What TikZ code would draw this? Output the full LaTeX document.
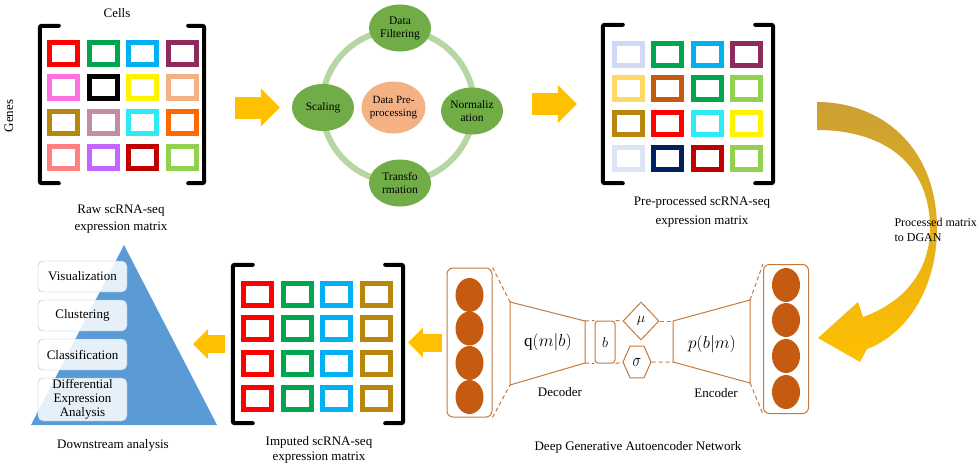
\documentclass[tikz,border=0pt]{standalone}
\usepackage{amsmath}
\usepackage{fontspec}
\setmainfont{Liberation Serif}
\usetikzlibrary{arrows.meta,shapes.geometric,calc}

\definecolor{dgreen}{RGB}{0,165,80}
\definecolor{sky}{RGB}{0,176,240}
\definecolor{plum}{RGB}{142,42,92}
\definecolor{pink}{RGB}{255,112,224}
\definecolor{peach}{RGB}{244,177,131}
\definecolor{gold}{RGB}{184,134,11}
\definecolor{mauve}{RGB}{195,139,166}
\definecolor{cyan}{RGB}{46,234,245}
\definecolor{orange}{RGB}{255,106,0}
\definecolor{lred}{RGB}{255,128,128}
\definecolor{violet}{RGB}{194,102,255}
\definecolor{dred}{RGB}{192,0,0}
\definecolor{lime}{RGB}{146,208,80}
\definecolor{lavender}{RGB}{210,217,245}
\definecolor{lgold}{RGB}{255,217,102}
\definecolor{rust}{RGB}{197,90,17}
\definecolor{pale}{RGB}{220,228,245}
\definecolor{navy}{RGB}{0,32,96}
\definecolor{ringgreen}{RGB}{182,215,164}
\definecolor{stagegreen}{RGB}{112,173,71}
\definecolor{arrowyellow}{RGB}{255,192,0}
\definecolor{dgold}{RGB}{203,160,52}
\definecolor{pyrblue}{RGB}{91,155,213}
\definecolor{boxblue}{RGB}{150,188,228}
\definecolor{aebrown}{RGB}{196,122,62}
\definecolor{unitbrown}{RGB}{197,90,17}

\begin{document}
\begin{tikzpicture}[x=1pt,y=-1pt,
  lbl/.style={align=center,font=\fontsize{13}{17}\selectfont},
  tile/.style={draw=#1,line width=5pt,minimum width=28pt,minimum height=22pt,inner sep=0pt},
  matframe/.style 2 args={minimum width=#1,minimum height=#2,inner sep=0pt},
  bracket/.style={line width=4pt,line cap=round,rounded corners=2pt},
  stage/.style={ellipse,fill=stagegreen,minimum width=62pt,minimum height=47pt,inner sep=-3pt,
    align=center,font=\fontsize{11.5}{13}\selectfont},
  core/.style={ellipse,fill=peach,minimum width=64pt,minimum height=52pt,inner sep=-3pt,
    align=center,font=\fontsize{11}{13}\selectfont},
  blockarr/.style={draw=arrowyellow,line width=22pt,-{Triangle[width=38pt,length=19pt,line width=0pt]}},
  smallarr/.style={draw=arrowyellow,line width=18pt,-{Triangle[width=30pt,length=15pt,line width=0pt]}},
  dsbox/.style={draw=boxblue,fill=white,fill opacity=0.85,text opacity=1,rounded corners=5pt,
    minimum width=89pt,inner sep=1pt,align=center,font=\fontsize{13}{14}\selectfont},
  nnlayer/.style={draw=aebrown,line width=1pt,rounded corners=6pt,minimum width=45pt,minimum height=149pt},
  unit/.style={ellipse,fill=unitbrown,minimum width=28pt,minimum height=34pt,inner sep=0pt},
  aeline/.style={draw=aebrown,line width=1pt},
  aedash/.style={draw=aebrown,line width=1pt,dash pattern=on 4pt off 3pt},
  aemath/.style={font=\fontsize{17}{19}\selectfont}]
\useasboundingbox (0,0) rectangle (980,466);

% raw matrix
\node[matframe={164pt}{157pt}] (raw) at (122,104.5) {};
\foreach \c [count=\k from 0] in {red,dgreen,sky,plum,pink,black,yellow,peach,gold,mauve,cyan,orange,lred,violet,dred,lime}{
  \pgfmathtruncatemacro\row{\k/4}
  \pgfmathtruncatemacro\col{mod(\k,4)}
  \node[tile=\c] (raw-\k) at (63.5+39.5*\col,53+34.8*\row) {};
}
\draw[bracket] ([xshift=19pt]raw.north west) -- (raw.north west) -- (raw.south west) -- ([xshift=19pt]raw.south west);
\draw[bracket] ([xshift=-16pt]raw.north east) -- (raw.north east) -- (raw.south east) -- ([xshift=-16pt]raw.south east);
\node[lbl] (cells) at (117,13) {Cells};
\node[lbl,rotate=90] (genes) at (9,116) {Genes};
\node[lbl] (rawlbl) at (121,219) {Raw scRNA-seq\\expression matrix};

% preprocessing cycle
\node[circle,draw=ringgreen,line width=6pt,minimum size=152pt] (ring) at (398,106) {};
\node[stage] (filt) at (400,28) {Data\\Filtering};
\node[stage] (scal) at (323,107.5) {Scaling};
\node[stage] (norm) at (472,111) {Normaliz\\ation};
\node[stage] (trans) at (400,183) {Transfo\\rmation};
\node[core] (core) at (393.5,107.5) {Data Pre-\\processing};

% pre-processed matrix
\node[matframe={170pt}{158pt}] (pre) at (688,104) {};
\foreach \c [count=\k from 0] in {lavender,dgreen,sky,plum,lgold,rust,dgreen,lime,gold,red,cyan,yellow,pale,navy,dred,lime}{
  \pgfmathtruncatemacro\row{\k/4}
  \pgfmathtruncatemacro\col{mod(\k,4)}
  \node[tile=\c] (pre-\k) at (628+39.5*\col,54+34.8*\row) {};
}
\draw[bracket] ([xshift=20pt]pre.north west) -- (pre.north west) -- (pre.south west) -- ([xshift=20pt]pre.south west);
\draw[bracket] ([xshift=-18pt]pre.north east) -- (pre.north east) -- (pre.south east) -- ([xshift=-18pt]pre.south east);
\node[lbl,font=\fontsize{13}{19}\selectfont] (prelbl) at (702,212) {Pre-processed scRNA-seq\\expression matrix};

\draw[blockarr,shorten <=31pt,shorten >=12pt] (scal.west -| raw.east) -- (scal.west);
\draw[blockarr,shorten <=29pt,shorten >=26pt] (norm.east |- pre.west) -- (pre.west);

% curved arrow to the network
\shade[top color=dgold,bottom color=arrowyellow]
  (817,102) .. controls (880,102) and (935,145) .. (937,225)
  .. controls (938,290) and (905,335) .. (867,349) -- (860,362) -- (818,338) -- (858,302) -- (863,317)
  .. controls (910,300) and (931,265) .. (930,225)
  .. controls (928,160) and (880,130) .. (817,130) -- cycle;
\node[lbl,align=left,anchor=west,font=\fontsize{12}{15}\selectfont] (dgan) at (891,229.5) {Processed matrix\\to DGAN};

% autoencoder
\node[nnlayer] (lay1) at (469.5,342.5) {};
\node[nnlayer] (lay2) at (786,339) {};
\foreach \y [count=\i] in {295,328.5,363,397}
  \node[unit] (u1-\i) at (469.5,\y) {};
\foreach \y [count=\i] in {285,320,356,392}
  \node[unit] (u2-\i) at (786,\y) {};

\coordinate (dec-tl) at (510,302);
\coordinate (dec-tr) at (585,321);
\coordinate (dec-br) at (585,363);
\coordinate (dec-bl) at (510,385);
\draw[aeline] (dec-tl) -- (dec-tr) -- (dec-br) -- (dec-bl) -- cycle;
\coordinate (enc-tl) at (673,321);
\coordinate (enc-tr) at (750,300);
\coordinate (enc-br) at (750,383);
\coordinate (enc-bl) at (673,362);
\draw[aeline] (enc-tl) -- (enc-tr) -- (enc-br) -- (enc-bl) -- cycle;

\node[aemath] (qlbl) at (548,342) {$\mathrm{q}(m|b)$};
\node[aemath] (plbl) at (712,344) {$p(b|m)$};
\node[draw=aebrown,line width=1pt,rounded corners=3pt,minimum width=20pt,minimum height=42pt,inner sep=0pt,
  font=\fontsize{15}{17}\selectfont] (bvar) at (605,342) {$b$};
\node[draw=aebrown,line width=1pt,diamond,minimum width=36pt,minimum height=38pt,inner sep=0pt,
  font=\fontsize{15}{17}\selectfont] (mu) at (641,321) {$\mu$};
\node[draw=aebrown,line width=1pt,regular polygon,regular polygon sides=6,minimum size=28pt,inner sep=0pt,
  yscale=1.3,font=\fontsize{14}{16}\selectfont] (sig) at (637,362) {$\sigma$};

\draw[aedash] (lay1.north east) -- (dec-tl);
\draw[aedash] (lay1.south east) -- (dec-bl);
\draw[aedash] (dec-tr) -- (bvar.north west);
\draw[aedash] (dec-br) -- (bvar.south west);
\draw[aedash] (bvar.north east) -- (mu.west);
\draw[aedash] (bvar.south east) -- (sig.west);
\draw[aedash] (mu.east) -- (enc-tl);
\draw[aedash] (sig.east) -- (enc-bl);
\draw[aedash] (enc-tr) -- (lay2.north west);
\draw[aedash] (enc-br) -- (lay2.south west);

\node[lbl] (dec) at (560,392) {Decoder};
\node[lbl] (enc) at (716,393) {Encoder};
\node[lbl] (dgantitle) at (638,447) {Deep Generative Autoencoder Network};

% imputed matrix
\node[matframe={170pt}{158pt}] (imp) at (318,344) {};
\foreach \c [count=\k from 0] in {red,dgreen,sky,gold,red,dgreen,sky,gold,red,dgreen,sky,gold,red,dgreen,sky,gold}{
  \pgfmathtruncatemacro\row{\k/4}
  \pgfmathtruncatemacro\col{mod(\k,4)}
  \node[tile=\c] (imp-\k) at (257.5+39.5*\col,294+34.8*\row) {};
}
\draw[bracket] ([xshift=20pt]imp.north west) -- (imp.north west) -- (imp.south west) -- ([xshift=20pt]imp.south west);
\draw[bracket] ([xshift=-18pt]imp.north east) -- (imp.north east) -- (imp.south east) -- ([xshift=-18pt]imp.south east);
\node[lbl,font=\fontsize{13}{15}\selectfont] (implbl) at (319,449.5) {Imputed scRNA-seq\\expression matrix};

\draw[smallarr,shorten <=5pt,shorten >=5pt] (lay1.west) -- (lay1.west -| imp.east);

% downstream pyramid
\coordinate (apex) at (124,245);
\coordinate (pbl) at (31,425);
\coordinate (pbr) at (217,425);
\fill[pyrblue] (apex) -- (pbl) -- (pbr) -- cycle;
\node[dsbox,minimum height=31pt] (vis) at (82.5,276.5) {Visualization};
\node[dsbox,minimum height=31pt] (clu) at (82.5,315.5) {Clustering};
\node[dsbox,minimum height=31pt] (cla) at (82.5,354.5) {Classification};
\node[dsbox,minimum height=43pt] (dea) at (82.5,399.5) {Differential\\Expression\\Analysis};
\node[lbl] (dslbl) at (113,445) {Downstream analysis};

\coordinate (dsin) at (193,344);
\draw[smallarr,shorten <=8pt] (imp.west) -- (dsin);
\end{tikzpicture}
\end{document}
